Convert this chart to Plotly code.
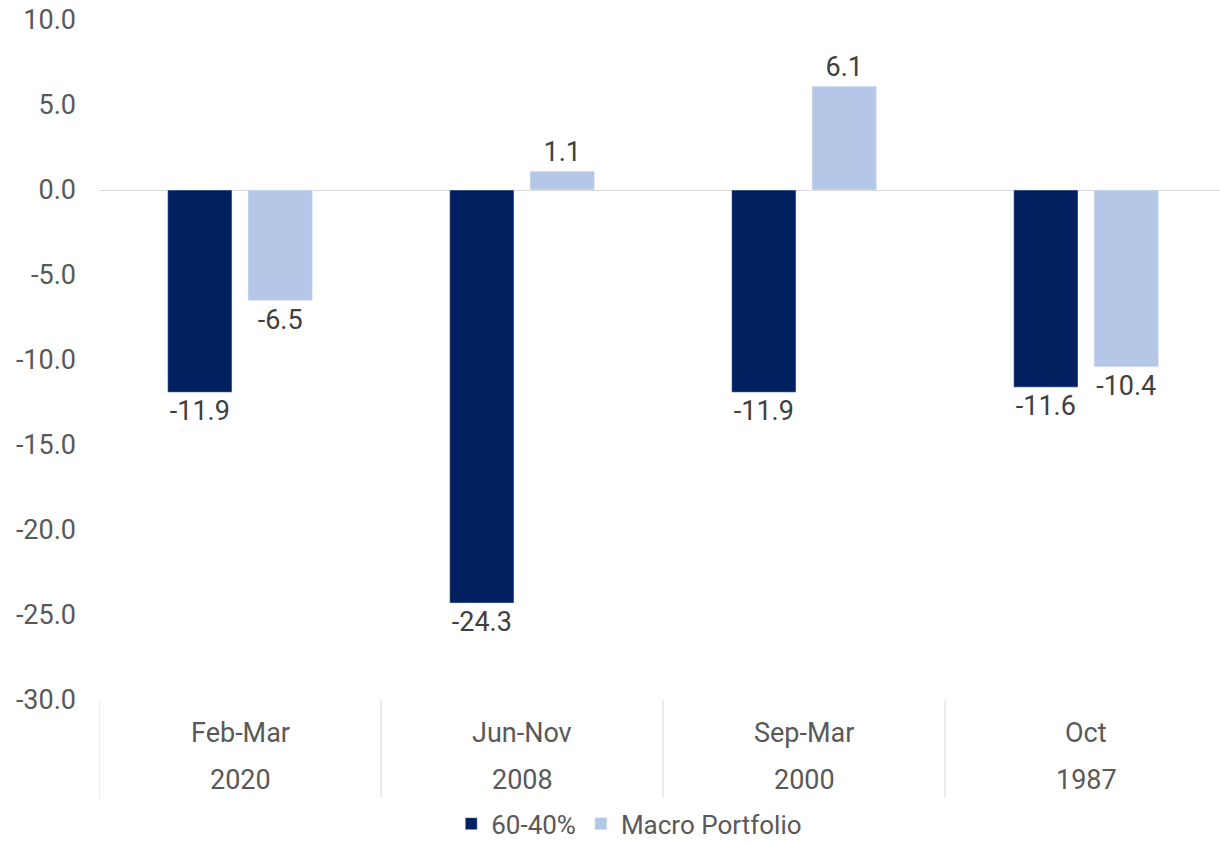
import plotly.graph_objects as go

periods = ["Feb-Mar", "Jun-Nov", "Sep-Mar", "Oct"]
years = ["2020", "2008", "2000", "1987"]
series_6040 = [-11.9, -24.3, -11.9, -11.6]
series_macro = [-6.5, 1.1, 6.1, -10.4]
y_ticks = [10, 5, 0, -5, -10, -15, -20, -25, -30]

cats = list(range(len(periods)))
dark = "#002060"
light = "#B4C7E7"
txt = "#595959"
lbl = "#404040"
FONT = "Roboto, Arial, sans-serif"
FS = 27

fig = go.Figure()
fig.add_trace(go.Bar(x=cats, y=series_6040, name="60-40%", marker_color=dark,
                     text=[f"{v:.1f}" for v in series_6040], textposition="outside",
                     textfont=dict(size=FS, color=lbl, family=FONT), cliponaxis=False))
fig.add_trace(go.Bar(x=cats, y=series_macro, name="Macro Portfolio", marker_color=light,
                     text=[f"{v:.1f}" for v in series_macro], textposition="outside",
                     textfont=dict(size=FS, color=lbl, family=FONT), cliponaxis=False))

# category labels
for i, (p, yr) in enumerate(zip(periods, years)):
    fig.add_annotation(x=i, y=-0.048, xref="x", yref="paper", text=p, showarrow=False,
                       font=dict(size=FS, color=txt, family=FONT), yanchor="middle")
    fig.add_annotation(x=i, y=-0.117, xref="x", yref="paper", text=yr, showarrow=False,
                       font=dict(size=FS, color=txt, family=FONT), yanchor="middle")
# dividers
for b in [i - 0.5 for i in range(len(periods) + 1)]:
    fig.add_shape(type="line", xref="x", yref="paper", x0=b, x1=b, y0=0, y1=-0.144,
                  line=dict(color="#D9D9D9", width=1))

fig.update_layout(
    width=1220, height=843,
    margin=dict(l=99, r=0, t=20, b=143, autoexpand=False),
    paper_bgcolor="white", plot_bgcolor="white",
    barmode="group", bargap=0.43, bargroupgap=0.2,
    font=dict(family=FONT, size=FS, color=txt),
    showlegend=True,
    legend=dict(orientation="h", x=0.473, xanchor="center", y=-0.182, yanchor="middle",
                font=dict(size=26, color=txt, family=FONT), itemwidth=30,
                traceorder="normal"),
)
fig.update_xaxes(range=[-0.5, 3.475], showticklabels=False, showgrid=False,
                 zeroline=False, showline=False, ticks="", automargin=False)
fig.update_yaxes(range=[-30, 10], tickvals=y_ticks, ticktext=[f"{v:.1f}" for v in y_ticks],
                 showgrid=False, zeroline=True, zerolinecolor="#D9D9D9", zerolinewidth=1,
                 showline=False, ticks="", ticklabelstandoff=22, automargin=False,
                 tickfont=dict(size=FS, color=txt, family=FONT))

fig.write_html("out.html", config={"displayModeBar": False},
               post_script="document.body.style.margin='0';document.body.style.overflow='hidden';")
